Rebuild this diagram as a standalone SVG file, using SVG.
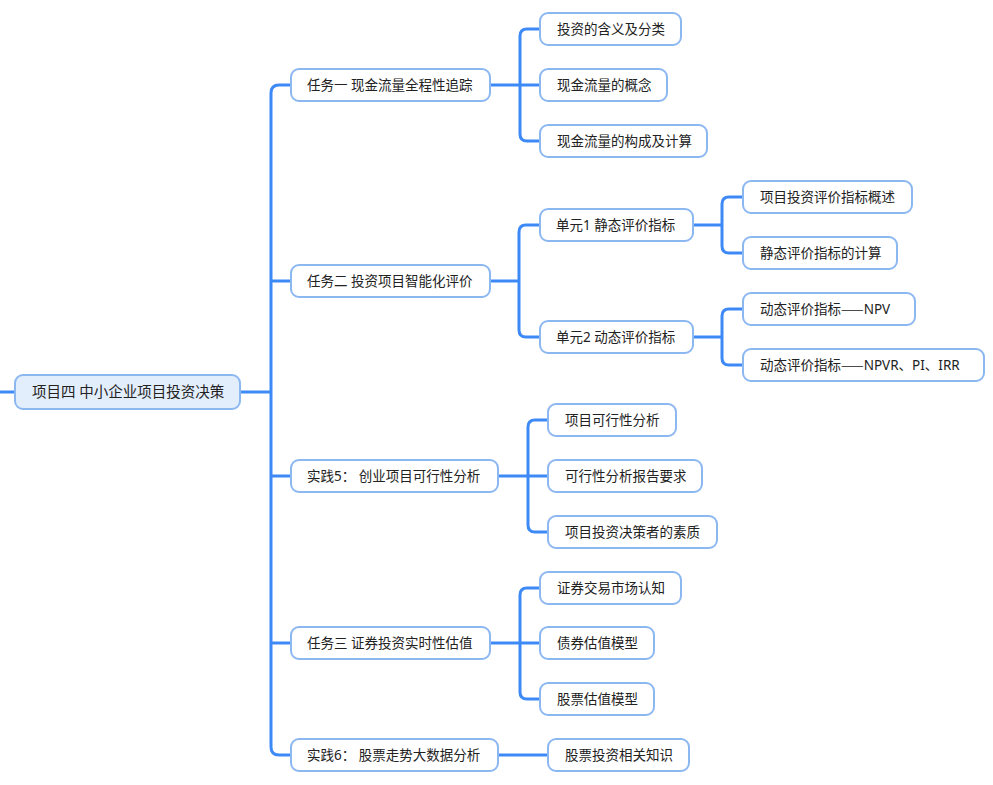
<svg xmlns="http://www.w3.org/2000/svg" width="993" height="785" viewBox="0 0 993 785">
<style>
.box{fill:#ffffff;stroke:#8cb8f2;stroke-width:2}
.root{fill:#e3eefd;stroke:#8cb8f2;stroke-width:2}
text{font-family:"Noto Sans","Noto Sans CJK SC",sans-serif;font-size:13.5px;fill:#222222}
.rt{font-size:14.5px}
.cj{font-family:"Noto Sans CJK SC",sans-serif}
.c path{fill:none;stroke:#3d8af7;stroke-width:3;stroke-linejoin:round}
</style>
<rect width="993" height="785" fill="#ffffff"/>
<g class="c" id="connectors">
<path d="M0,392 H15"/>
<path d="M240,392 H271"/>
<path d="M291,85 H279 Q271,85 271,93 V747 Q271,755 279,755 H291"/>
<path d="M271,281 H291"/>
<path d="M271,476 H291"/>
<path d="M271,643 H291"/>
<path d="M490,85 H520"/>
<path d="M539,29 H527 Q520,29 520,36 V134 Q520,141 527,141 H539"/>
<path d="M520,85 H539"/>
<path d="M490,281 H519"/>
<path d="M539,225 H526 Q519,225 519,232 V330 Q519,337 526,337 H539"/>
<path d="M693,225 H722"/>
<path d="M743,197 H729 Q722,197 722,204 V246 Q722,253 729,253 H743"/>
<path d="M693,337 H722"/>
<path d="M743,309 H729 Q722,309 722,316 V358 Q722,365 729,365 H743"/>
<path d="M498,476 H528"/>
<path d="M547,420 H535 Q528,420 528,427 V525 Q528,532 535,532 H547"/>
<path d="M528,476 H547"/>
<path d="M490,643 H520"/>
<path d="M539,588 H527 Q520,588 520,595 V692 Q520,699 527,699 H539"/>
<path d="M520,643 H539"/>
<path d="M498,755 H547"/>
</g>
<g id="root"><rect class="root" x="15" y="375" width="225" height="34" rx="8"/><text class="rt" x="32" y="397">项目四 中小企业项目投资决策</text></g>
<g id="t1"><rect class="box" x="291" y="69" width="199" height="32" rx="8"/><text x="307" y="90">任务一 现金流量全程性追踪</text></g>
<g id="t1a"><rect class="box" x="540" y="13" width="141" height="32" rx="8"/><text x="557" y="34">投资的含义及分类</text></g>
<g id="t1b"><rect class="box" x="540" y="69" width="127" height="32" rx="8"/><text x="557" y="90">现金流量的概念</text></g>
<g id="t1c"><rect class="box" x="540" y="125" width="167" height="32" rx="8"/><text x="557" y="146">现金流量的构成及计算</text></g>
<g id="t2"><rect class="box" x="291" y="265" width="199" height="32" rx="8"/><text x="307" y="286">任务二 投资项目智能化评价</text></g>
<g id="u1"><rect class="box" x="540" y="209" width="153" height="32" rx="8"/><text x="556" y="230">单元1 静态评价指标</text></g>
<g id="u1a"><rect class="box" x="743" y="181" width="169" height="32" rx="8"/><text x="760" y="202">项目投资评价指标概述</text></g>
<g id="u1b"><rect class="box" x="743" y="237" width="154" height="32" rx="8"/><text x="760" y="258">静态评价指标的计算</text></g>
<g id="u2"><rect class="box" x="540" y="321" width="153" height="32" rx="8"/><text x="556" y="342">单元2 动态评价指标</text></g>
<g id="u2a"><rect class="box" x="743" y="293" width="172" height="32" rx="8"/><text x="760" y="314">动态评价指标<tspan class="cj">——</tspan>NPV</text></g>
<g id="u2b"><rect class="box" x="743" y="349" width="241" height="32" rx="8"/><text x="760" y="370">动态评价指标<tspan class="cj">——</tspan>NPVR、PI、IRR</text></g>
<g id="p5"><rect class="box" x="291" y="460" width="207" height="32" rx="8"/><text x="307" y="481">实践5：  创业项目可行性分析</text></g>
<g id="p5a"><rect class="box" x="548" y="404" width="128" height="32" rx="8"/><text x="565" y="425">项目可行性分析</text></g>
<g id="p5b"><rect class="box" x="548" y="460" width="154" height="32" rx="8"/><text x="565" y="481">可行性分析报告要求</text></g>
<g id="p5c"><rect class="box" x="548" y="516" width="169" height="32" rx="8"/><text x="565" y="537">项目投资决策者的素质</text></g>
<g id="t3"><rect class="box" x="291" y="627" width="199" height="32" rx="8"/><text x="307" y="648">任务三 证券投资实时性估值</text></g>
<g id="t3a"><rect class="box" x="540" y="572" width="141" height="32" rx="8"/><text x="557" y="593">证券交易市场认知</text></g>
<g id="t3b"><rect class="box" x="540" y="627" width="114" height="32" rx="8"/><text x="557" y="648">债券估值模型</text></g>
<g id="t3c"><rect class="box" x="540" y="683" width="114" height="32" rx="8"/><text x="557" y="704">股票估值模型</text></g>
<g id="p6"><rect class="box" x="291" y="739" width="207" height="32" rx="8"/><text x="307" y="760">实践6：  股票走势大数据分析</text></g>
<g id="p6a"><rect class="box" x="548" y="739" width="141" height="32" rx="8"/><text x="565" y="760">股票投资相关知识</text></g>
</svg>
